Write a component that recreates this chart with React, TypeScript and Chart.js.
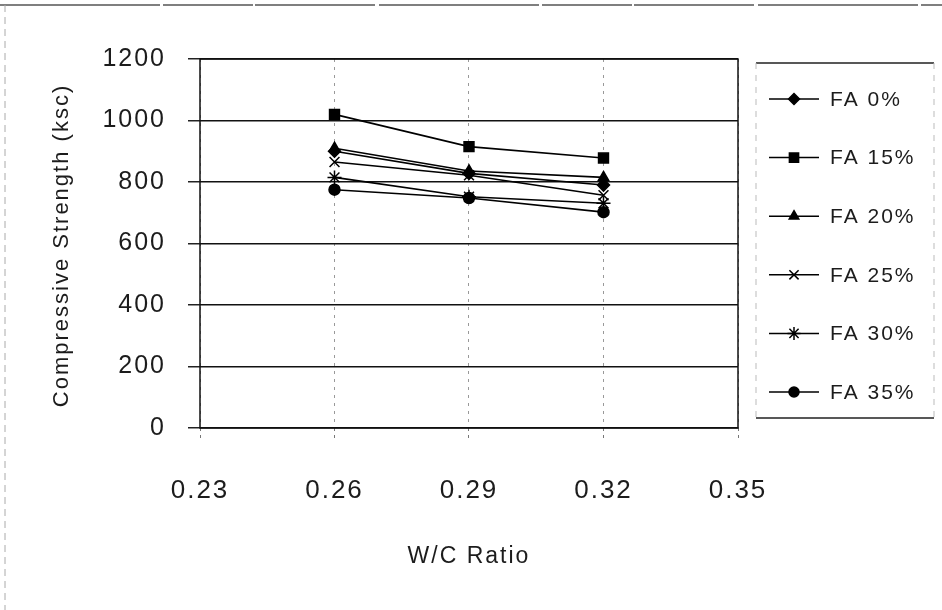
import React, { useEffect, useRef } from "react";
import { Chart, registerables } from "chart.js";
import { drawPoint } from "chart.js/helpers";

Chart.register(...registerables);

// W/C ratio at which each mix was tested
const wcRatio = [0.26, 0.29, 0.32];

// Compressive strength (ksc) per fly-ash replacement level
const fa0 = [900, 828, 790];
const fa15 = [1020, 915, 878];
const fa20 = [910, 836, 815];
const fa25 = [865, 822, 757];
const fa30 = [815, 752, 731];
const fa35 = [775, 748, 702];

const seriesLabels = ["FA 0%", "FA 15%", "FA 20%", "FA 25%", "FA 30%", "FA 35%"];
const seriesValues = [fa0, fa15, fa20, fa25, fa30, fa35];
const markerStyles = ["rectRot", "rect", "triangle", "crossRot", "star", "circle"];
const markerSizes = [6, 7, 6, 7, 7, 5.5];

const xTicks = [0.23, 0.26, 0.29, 0.32, 0.35];
const yTicks = [0, 200, 400, 600, 800, 1000, 1200];

const xTitle = "W/C Ratio";
const yTitle = "Compressive Strength (ksc)";

const FONT = "'Liberation Sans', Arial, Helvetica, sans-serif";
const INK = "#1c1c1c";

const spacingPlugin = {
  id: "letterSpacing",
  beforeUpdate(chart: any) {
    chart.ctx.letterSpacing = "2px";
  },
  beforeDraw(chart: any) {
    chart.ctx.letterSpacing = "2px";
  },
};

const framePlugin = {
  id: "frame",
  beforeDatasetsDraw(chart: any) {
    const { ctx, chartArea: a } = chart;
    ctx.save();
    ctx.strokeStyle = "#111";
    ctx.lineWidth = 1.5;
    ctx.strokeRect(a.left, a.top, a.right - a.left, a.bottom - a.top);
    ctx.restore();
  },
  afterDraw(chart: any) {
    const { ctx, chartArea: a } = chart;
    ctx.save();
    ctx.letterSpacing = "2px";

    // outer border of the figure
    ctx.strokeStyle = "#555";
    ctx.lineWidth = 1.5;
    ctx.setLineDash([160, 3, 90, 2, 120, 4]);
    ctx.beginPath();
    ctx.moveTo(0, 5);
    ctx.lineTo(942, 5);
    ctx.stroke();
    ctx.strokeStyle = "#aaa";
    ctx.lineWidth = 1;
    ctx.setLineDash([7, 5]);
    ctx.beginPath();
    ctx.moveTo(5, 5);
    ctx.lineTo(5, 610);
    ctx.stroke();
    ctx.setLineDash([]);

    // axis titles
    ctx.fillStyle = INK;
    ctx.textAlign = "center";
    ctx.textBaseline = "middle";
    ctx.font = `23px ${FONT}`;
    ctx.fillText(xTitle, (a.left + a.right) / 2, 557);
    ctx.save();
    ctx.translate(62, (a.top + a.bottom) / 2 + 2);
    ctx.rotate(-Math.PI / 2);
    ctx.font = `22px ${FONT}`;
    ctx.fillText(yTitle, 0, 0);
    ctx.restore();

    // legend box
    const lx0 = 756;
    const lx1 = 934;
    const ly0 = 63;
    const ly1 = 418;
    ctx.strokeStyle = "#222";
    ctx.lineWidth = 1.5;
    ctx.beginPath();
    ctx.moveTo(lx0, ly0);
    ctx.lineTo(lx1, ly0);
    ctx.moveTo(lx0, ly1);
    ctx.lineTo(lx1, ly1);
    ctx.stroke();
    ctx.strokeStyle = "#bbb";
    ctx.lineWidth = 1;
    ctx.setLineDash([6, 6]);
    ctx.beginPath();
    ctx.moveTo(lx0, ly0);
    ctx.lineTo(lx0, ly1);
    ctx.moveTo(lx1, ly0);
    ctx.lineTo(lx1, ly1);
    ctx.stroke();
    ctx.setLineDash([]);

    ctx.font = `21px ${FONT}`;
    ctx.textAlign = "left";
    seriesLabels.forEach((label, i) => {
      const y = 99 + i * 58.6;
      ctx.strokeStyle = "#000";
      ctx.fillStyle = "#000";
      ctx.lineWidth = 1.5;
      ctx.beginPath();
      ctx.moveTo(769, y);
      ctx.lineTo(819, y);
      ctx.stroke();
      drawPoint(
        ctx,
        { pointStyle: markerStyles[i], radius: markerSizes[i] - 0.5, rotation: 0, borderWidth: 1.5 } as any,
        794,
        y
      );
      ctx.fillStyle = INK;
      ctx.fillText(label, 830, y + 1);
    });
    ctx.restore();
  },
};

export default function App() {
  const canvasRef = useRef<HTMLCanvasElement | null>(null);

  useEffect(() => {
    document.body.style.margin = "0";
    const canvas = canvasRef.current;
    if (!canvas) return;

    const datasets = seriesLabels.map((label, i) => ({
      label,
      data: wcRatio.map((x, j) => ({ x, y: seriesValues[i][j] })),
      borderColor: "#000",
      backgroundColor: "#000",
      borderWidth: 1.6,
      pointStyle: markerStyles[i],
      pointRadius: markerSizes[i],
      pointBorderWidth: 1.5,
      pointBackgroundColor: "#000",
      pointBorderColor: "#000",
      tension: 0,
      fill: false,
    }));

    const chart = new Chart(canvas, {
      type: "line",
      data: { datasets } as any,
      options: {
        animation: false,
        responsive: false,
        maintainAspectRatio: false,
        layout: { padding: { left: 0, top: 59, right: 204, bottom: 0 } },
        plugins: {
          legend: { display: false },
          tooltip: { enabled: false },
          title: { display: false },
        },
        scales: {
          x: {
            type: "linear",
            min: 0.23,
            max: 0.35,
            afterBuildTicks: (s: any) => {
              s.ticks = xTicks.map((v) => ({ value: v }));
            },
            afterFit: (s: any) => {
              s.height = 182;
            },
            ticks: {
              autoSkip: false,
              maxRotation: 0,
              padding: 35,
              color: INK,
              font: { size: 26, family: FONT },
              callback: (v: any) => Number(v).toFixed(2),
            },
            grid: {
              color: "#999",
              lineWidth: 1,
              tickLength: 12,
              tickColor: "#777",
              tickBorderDash: [3, 4],
            },
            border: { display: false, dash: [3, 5] },
          },
          y: {
            type: "linear",
            min: 0,
            max: 1200,
            afterBuildTicks: (s: any) => {
              s.ticks = yTicks.map((v) => ({ value: v }));
            },
            afterFit: (s: any) => {
              s.width = 200;
            },
            ticks: {
              padding: 22,
              color: INK,
              font: { size: 25, family: FONT },
              callback: (v: any) => String(v),
            },
            grid: {
              color: "#111",
              lineWidth: 1.5,
              tickLength: 12,
              tickColor: "#222",
            },
            border: { display: false },
          },
        },
      },
      plugins: [spacingPlugin, framePlugin],
    } as any);

    return () => chart.destroy();
  }, []);

  return (
    <div style={{ width: 942, height: 610, background: "#fff" }}>
      <canvas ref={canvasRef} width={942} height={610} style={{ display: "block", width: 942, height: 610 }} />
    </div>
  );
}
